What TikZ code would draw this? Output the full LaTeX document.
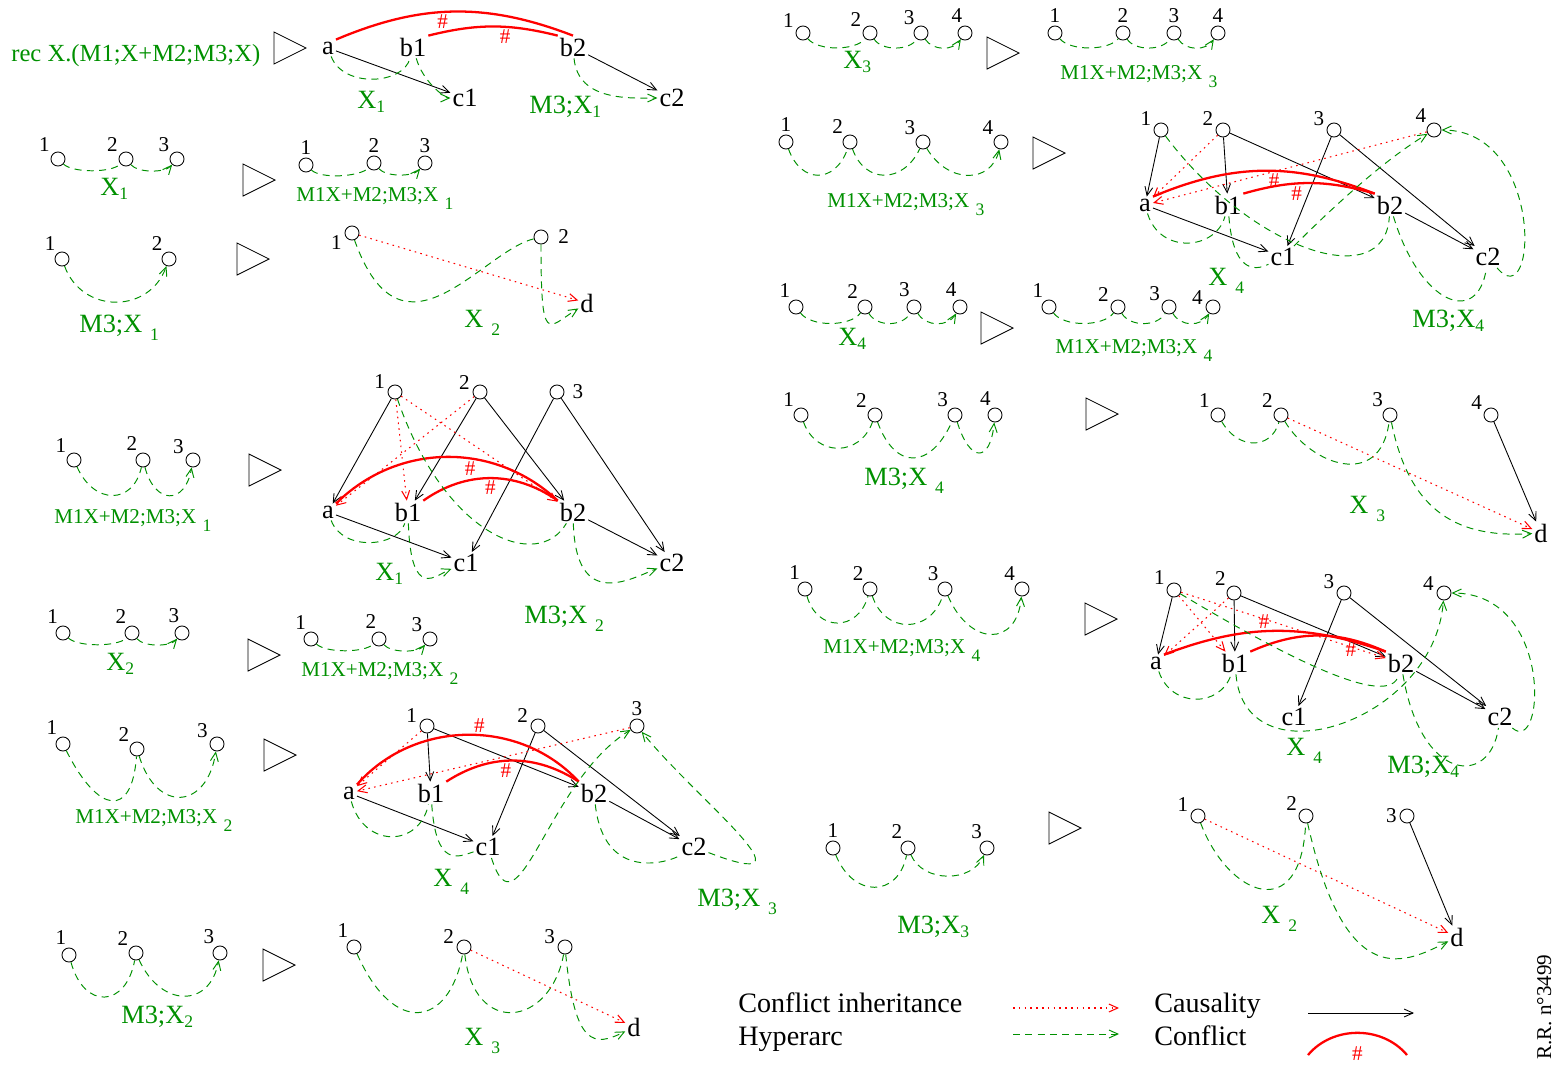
\documentclass[tikz,border=0pt]{standalone}
\usepackage{fontspec}
\setmainfont{Liberation Serif}
\usetikzlibrary{arrows.meta}
\definecolor{figgreen}{RGB}{0,144,0}
\newcommand{\tsub}[1]{\raisebox{-2.5pt}{\fontsize{10}{10}\selectfont #1}}
\newcommand{\gsub}[1]{\hspace{0.3em}\raisebox{-5pt}{\fontsize{10}{10}\selectfont #1}}

\tikzset{
  place/.style={circle, draw, inner sep=0pt, minimum size=8pt, line width=0.5pt},
  evt/.style={inner sep=1pt, font=\fontsize{15}{15}\selectfont},
  num/.style={inner sep=0.5pt, font=\fontsize{12}{12}\selectfont},
  barbtip/.style={-{Straight Barb[length=5pt,width=4.5pt]}},
  causal/.style={barbtip, line width=0.5pt},
  inherit/.style={barbtip, red, line width=0.6pt, dash pattern=on 0.9pt off 2.4pt},
  hyp/.style={figgreen, line width=0.55pt, dash pattern=on 4pt off 3pt},
  hyper/.style={hyp, barbtip},
  confl/.style={red, line width=1.3pt},
  hash/.style={red, inner sep=1pt, font=\fontsize{12}{12}\selectfont},
  glbl/.style={figgreen, anchor=base west, inner sep=0pt, font=\fontsize{15}{15}\selectfont},
  gsmall/.style={figgreen, anchor=base west, inner sep=0pt, font=\fontsize{12}{12}\selectfont},
  legend/.style={anchor=base west, inner sep=0pt, font=\fontsize{16}{16}\selectfont},
  rhd/.pic={\draw[line width=0.5pt] (0,-16) -- (32,0) -- (0,16) -- cycle;}
}

\begin{document}
\begin{tikzpicture}[x=0.02cm, y=-0.02cm, label distance=1pt]
\useasboundingbox (0,0) rectangle (1553,1066);

% L1
\node[glbl, font=\fontsize{14}{14}\selectfont] (rec) at (11,61) {rec X.(M1;X+M2;M3;X)};
\pic at (274,48) {rhd};
\node[evt] (L1a) at (328,48) {a};
\node[evt] (L1b1) at (413,47) {b1};
\node[evt] (L1b2) at (573,47) {b2};
\node[evt] (L1c1) at (465,98) {c1};
\node[evt] (L1c2) at (672,98) {c2};
\draw[causal] (L1a) -- (L1c1);
\draw[causal] (L1b2) -- (L1c2);
\draw[confl] (L1a.north east) to[bend left=22] node[hash, pos=0.45, below] (L1h1) {\#} (L1b2.north);
\draw[confl] (L1b1.north east) to[bend left=14] node[hash, pos=0.6, below] (L1h2) {\#} (L1b2.north west);
\draw[hyper] (L1a) .. controls +(15,40) and +(-10,38) .. (L1b1) .. controls +(10,35) and +(-20,0) .. (L1c1);
\draw[hyper] (L1b2) .. controls +(5,55) and +(-40,0) .. (L1c2);
\node[glbl] (L1x) at (357,108) {X\tsub{1}};
\node[glbl] (L1m) at (529,113) {M3;X\tsub{1}};

% L2
\node[place, label={[num]140:1}] (L2l1) at (58,159) {};
\node[place, label={[num]140:2}] (L2l2) at (126,159) {};
\node[place, label={[num]135:3}] (L2l3) at (177,159) {};
\draw[hyper] (L2l1) .. controls +(15,14) and +(-15,14) .. (L2l2) .. controls +(12,14) and +(-12,14) .. (L2l3);
\node[glbl] (L2x) at (100,195) {X\tsub{1}};
\pic at (243,180) {rhd};
\node[place, label={[num]above:1}] (L2r1) at (306,165) {};
\node[place, label={[num]above:2}] (L2r2) at (374,163) {};
\node[place, label={[num]above:3}] (L2r3) at (425,163) {};
\draw[hyper] (L2r1) .. controls +(15,14) and +(-15,14) .. (L2r2) .. controls +(12,14) and +(-12,14) .. (L2r3);
\node[gsmall] (L2m) at (296,201) {M1X+M2;M3;X\gsub{1}};

% L3
\node[place, label={[num]125:1}] (L3l1) at (62,259) {};
\node[place, label={[num]125:2}] (L3l2) at (169,259) {};
\draw[hyper] (L3l1) .. controls +(20,55) and +(-20,55) .. (L3l2);
\node[glbl] (L3m) at (79,332) {M3;X\gsub{1}};
\pic at (237,259) {rhd};
\node[place, label={[num]190:1}] (L3r1) at (352,233) {};
\node[place, label={[num, xshift=4pt]right:2}] (L3r2) at (541,237) {};
\node[evt] (L3d) at (587,303) {d};
\draw[inherit] (L3r1) -- (L3d);
\draw[hyper] (L3r1) .. controls +(50,140) and +(-60,15) .. (L3r2) .. controls +(0,110) and +(-40,25) .. (L3d);
\node[glbl] (L3x) at (464,327) {X\gsub{2}};

% L4
\node[place, label={[num]135:1}] (L4l1) at (74,460) {};
\node[place, label={[num]120:2}] (L4l2) at (143,460) {};
\node[place, label={[num]150:3}] (L4l3) at (193,460) {};
\draw[hyper] (L4l1) .. controls +(20,45) and +(-10,45) .. (L4l2) .. controls +(12,45) and +(-8,45) .. (L4l3);
\node[gsmall] (L4m) at (54,523) {M1X+M2;M3;X\gsub{1}};
\pic at (249,470) {rhd};
\node[place, label={[num]165:1}] (L4r1) at (395,392) {};
\node[place, label={[num]170:2}] (L4r2) at (480,392) {};
\node[place, label={[num, xshift=3pt]right:3}] (L4r3) at (557,392) {};
\node[evt] (L4a) at (328,512) {a};
\node[evt] (L4b1) at (408,512) {b1};
\node[evt] (L4b2) at (573,512) {b2};
\node[evt] (L4c1) at (466,563) {c1};
\node[evt] (L4c2) at (672,563) {c2};
\draw[causal] (L4r1) -- (L4a);
\draw[causal] (L4r2) -- (L4b1);
\draw[causal] (L4r2) -- (L4b2);
\draw[causal] (L4r3) -- (L4c1);
\draw[causal] (L4r3) -- (L4c2);
\draw[causal] (L4a) -- (L4c1);
\draw[causal] (L4b2) -- (L4c2);
\draw[confl] (L4a.north east) to[bend left=44] node[hash, pos=0.6, below] (L4h1) {\#} (L4b2.north west);
\draw[confl] (L4b1.north east) to[bend left=35] node[hash, pos=0.5, below] (L4h2) {\#} (L4b2.north west);
\draw[inherit] (L4r1) -- (L4b1);
\draw[inherit] (L4r1) -- (L4b2);
\draw[inherit] (L4r2) -- (L4a);
\draw[hyper] (L4a) .. controls +(15,40) and +(-10,35) .. (L4b1) .. controls +(3,90) and +(-30,12) .. (L4c1);
\draw[hyper] (L4r1) .. controls +(50,145) and +(-35,60) .. (L4b2) .. controls +(3,100) and +(-40,15) .. (L4c2);
\node[glbl] (L4x) at (375,580) {X\tsub{1}};
\node[glbl] (L4m2) at (524,623) {M3;X\gsub{2}};

% L5
\node[place, label={[num]115:1}] (L5l1) at (63,633) {};
\node[place, label={[num]120:2}] (L5l2) at (132,633) {};
\node[place, label={[num]100:3}] (L5l3) at (182,633) {};
\draw[hyper] (L5l1) .. controls +(15,14) and +(-15,14) .. (L5l2) .. controls +(12,14) and +(-12,14) .. (L5l3);
\node[glbl] (L5x) at (106,670) {X\tsub{2}};
\pic at (248,655) {rhd};
\node[place, label={[num]115:1}] (L5r1) at (311,639) {};
\node[place, label={[num]100:2}] (L5r2) at (379,639) {};
\node[place, label={[num]135:3}] (L5r3) at (430,639) {};
\draw[hyper] (L5r1) .. controls +(15,14) and +(-15,14) .. (L5r2) .. controls +(12,14) and +(-12,14) .. (L5r3);
\node[gsmall] (L5m) at (301,676) {M1X+M2;M3;X\gsub{2}};

% L6
\node[place, label={[num]120:1}] (L6l1) at (63,744) {};
\node[place, label={[num]135:2}] (L6l2) at (137,749) {};
\node[place, label={[num]150:3}] (L6l3) at (217,744) {};
\draw[hyper] (L6l1) .. controls +(35,70) and +(-5,70) .. (L6l2) .. controls +(20,65) and +(-10,65) .. (L6l3);
\node[gsmall] (L6m) at (75,823) {M1X+M2;M3;X\gsub{2}};
\pic at (264,755) {rhd};
\node[place, label={[num]165:1}] (L6r1) at (427,726) {};
\node[place, label={[num]165:2}] (L6r2) at (538,726) {};
\node[place, label={[num]above:3}] (L6r3) at (637,726) {};
\node[evt] (L6a) at (349,793) {a};
\node[evt] (L6b1) at (431,793) {b1};
\node[evt] (L6b2) at (594,793) {b2};
\node[evt] (L6c1) at (488,847) {c1};
\node[evt] (L6c2) at (694,847) {c2};
\draw[causal] (L6r1) -- (L6b1);
\draw[causal] (L6r1) -- (L6b2);
\draw[causal] (L6r2) -- (L6c1);
\draw[causal] (L6r2) -- (L6c2);
\draw[causal] (L6a) -- (L6c1);
\draw[causal] (L6b2) -- (L6c2);
\draw[confl] (L6a.north east) to[bend left=48] node[hash, pos=0.55, above] (L6h1) {\#} (L6b2.north west);
\draw[confl] (L6b1.north east) to[bend left=33] node[hash, pos=0.45, below] (L6h2) {\#} (L6b2.north west);
\draw[inherit] (L6r1) -- (L6a);
\draw[inherit] (L6r3) -- (L6a);
\draw[hyp] (L6a) .. controls +(15,55) and +(-12,55) .. (L6b1) .. controls +(5,75) and +(-30,10) .. (L6c1);
\draw[hyper] (L6c1) .. controls +(30,95) and +(-90,55) .. (L6r3);
\draw[hyp] (L6b2) .. controls +(10,90) and +(-25,15) .. (L6c2);
\draw[hyper] (L6c2) .. controls +(130,50) and +(60,74) .. (L6r3);
\node[glbl] (L6x) at (433,886) {X\gsub{4}};
\node[glbl] (L6m2) at (697,906) {M3;X\gsub{3}};

% L7
\node[place, label={[num]100:1}] (L7l1) at (69,955) {};
\node[place, label={[num]135:2}] (L7l2) at (136,953) {};
\node[place, label={[num]120:3}] (L7l3) at (220,953) {};
\draw[hyper] (L7l1) .. controls +(15,55) and +(-10,55) .. (L7l2) .. controls +(25,55) and +(-10,55) .. (L7l3);
\node[glbl] (L7m) at (121,1023) {M3;X\tsub{2}};
\pic at (263,965) {rhd};
\node[place, label={[num]120:1}] (L7r1) at (354,947) {};
\node[place, label={[num]165:2}] (L7r2) at (464,947) {};
\node[place, label={[num]165:3}] (L7r3) at (565,947) {};
\node[evt] (L7d) at (634,1027) {d};
\draw[inherit] (L7r2) -- (L7d);
\draw[hyper] (L7r1) .. controls +(40,90) and +(-15,80) .. (L7r2) .. controls +(10,90) and +(-15,80) .. (L7r3) .. controls +(10,100) and +(-40,20) .. (L7d);
\node[glbl] (L7x) at (464,1045) {X\gsub{3}};

% R1
\node[place, label={[num]150:1}] (R1l1) at (803,33) {};
\node[place, label={[num]145:2}] (R1l2) at (870,33) {};
\node[place, label={[num]125:3}] (R1l3) at (921,33) {};
\node[place, label={[num]100:4}] (R1l4) at (965,33) {};
\draw[hyper] (R1l1) .. controls +(15,18) and +(-15,18) .. (R1l2) .. controls +(12,18) and +(-12,18) .. (R1l3) .. controls +(12,18) and +(-12,18) .. (R1l4);
\node[glbl] (R1x) at (843,68) {X\tsub{3}};
\pic at (987,53) {rhd};
\node[place, label={[num]above:1}] (R1r1) at (1055,33) {};
\node[place, label={[num]above:2}] (R1r2) at (1123,33) {};
\node[place, label={[num]above:3}] (R1r3) at (1174,33) {};
\node[place, label={[num]above:4}] (R1r4) at (1218,33) {};
\draw[hyper] (R1r1) .. controls +(15,18) and +(-15,18) .. (R1r2) .. controls +(12,18) and +(-12,18) .. (R1r3) .. controls +(12,18) and +(-12,18) .. (R1r4);
\node[gsmall] (R1m) at (1060,79) {M1X+M2;M3;X\gsub{3}};

% R2
\node[place, label={[num]above:1}] (R2l1) at (786,142) {};
\node[place, label={[num]130:2}] (R2l2) at (850,142) {};
\node[place, label={[num]135:3}] (R2l3) at (923,142) {};
\node[place, label={[num]135:4}] (R2l4) at (1001,142) {};
\draw[hyper] (R2l1) .. controls +(15,42) and +(-15,42) .. (R2l2) .. controls +(15,42) and +(-20,42) .. (R2l3) .. controls +(25,42) and +(-10,42) .. (R2l4);
\node[gsmall] (R2m) at (827,207) {M1X+M2;M3;X\gsub{3}};
\pic at (1033,153) {rhd};
\node[place, label={[num]160:1}] (R2r1) at (1161,130) {};
\node[place, label={[num]160:2}] (R2r2) at (1223,130) {};
\node[place, label={[num]160:3}] (R2r3) at (1334,130) {};
\node[place, label={[num]135:4}] (R2r4) at (1434,130) {};
\node[evt] (R2a) at (1145,205) {a};
\node[evt] (R2b1) at (1228,205) {b1};
\node[evt] (R2b2) at (1390,205) {b2};
\node[evt] (R2c1) at (1283,257) {c1};
\node[evt] (R2c2) at (1488,257) {c2};
\draw[causal] (R2r1) -- (R2a);
\draw[causal] (R2r2) -- (R2b1);
\draw[causal] (R2r2) -- (R2b2);
\draw[causal] (R2r3) -- (R2c1);
\draw[causal] (R2r3) -- (R2c2);
\draw[causal] (R2a) -- (R2c1);
\draw[causal] (R2b2) -- (R2c2);
\draw[confl] (R2a.north east) to[bend left=22] node[hash, pos=0.55, below] (R2h1) {\#} (R2b2.north west);
\draw[confl] (R2b1.north east) to[bend left=16] node[hash, pos=0.4, below] (R2h2) {\#} (R2b2.north west);
\draw[inherit] (R2r2) -- (R2a);
\draw[inherit] (R2r4) -- (R2a);
\draw[hyp] (R2a) .. controls +(15,50) and +(-12,45) .. (R2b1) .. controls +(5,65) and +(-30,15) .. (R2c1);
\draw[hyper] (R2c1) .. controls +(50,-50) and +(-50,30) .. (R2r4);
\draw[hyp] (R2r1) .. controls +(90,120) and +(-5,90) .. (R2b2) .. controls +(30,100) and +(-10,70) .. (R2c2);
\draw[hyper] (R2c2) .. controls +(50,60) and +(110,0) .. (R2r4);
\node[glbl] (R2x) at (1208,285) {X\gsub{4}};
\node[glbl] (R2m2) at (1412,327) {M3;X\tsub{4}};

% R3
\node[place, label={[num]120:1}] (R3l1) at (796,307) {};
\node[place, label={[num]130:2}] (R3l2) at (865,307) {};
\node[place, label={[num]110:3}] (R3l3) at (914,307) {};
\node[place, label={[num]105:4}] (R3l4) at (960,307) {};
\draw[hyper] (R3l1) .. controls +(15,20) and +(-15,20) .. (R3l2) .. controls +(12,20) and +(-12,20) .. (R3l3) .. controls +(12,20) and +(-12,20) .. (R3l4);
\node[glbl] (R3x) at (838,345) {X\tsub{4}};
\pic at (981,328) {rhd};
\node[place, label={[num]120:1}] (R3r1) at (1049,307) {};
\node[place, label={[num]150:2}] (R3r2) at (1118,307) {};
\node[place, label={[num]150:3}] (R3r3) at (1169,307) {};
\node[place, label={[num]170:4}] (R3r4) at (1213,307) {};
\draw[hyper] (R3r1) .. controls +(15,20) and +(-15,20) .. (R3r2) .. controls +(12,20) and +(-12,20) .. (R3r3) .. controls +(12,20) and +(-12,20) .. (R3r4);
\node[gsmall] (R3m) at (1055,353) {M1X+M2;M3;X\gsub{4}};

% R4
\node[place, label={[num]130:1}] (R4l1) at (801,415) {};
\node[place, label={[num]140:2}] (R4l2) at (875,415) {};
\node[place, label={[num]130:3}] (R4l3) at (955,415) {};
\node[place, label={[num]110:4}] (R4l4) at (995,415) {};
\draw[hyper] (R4l1) .. controls +(15,42) and +(-15,42) .. (R4l2) .. controls +(20,55) and +(-25,55) .. (R4l3) .. controls +(15,48) and +(-5,48) .. (R4l4);
\node[glbl] (R4m) at (864,485) {M3;X\gsub{4}};
\pic at (1086,414) {rhd};
\node[place, label={[num]140:1}] (R4r1) at (1218,415) {};
\node[place, label={[num]140:2}] (R4r2) at (1281,415) {};
\node[place, label={[num]130:3}] (R4r3) at (1390,415) {};
\node[place, label={[num]150:4}] (R4r4) at (1491,415) {};
\node[evt] (R4d) at (1541,533) {d};
\draw[causal] (R4r4) -- (R4d);
\draw[inherit] (R4r2) -- (R4d);
\draw[hyper] (R4r1) .. controls +(20,35) and +(-10,35) .. (R4r2) .. controls +(30,50) and +(-10,75) .. (R4r3) .. controls +(20,100) and +(-80,5) .. (R4d);
\node[glbl] (R4x) at (1349,513) {X\gsub{3}};

% R5
\node[place, label={[num]115:1}] (R5l1) at (805,589) {};
\node[place, label={[num]125:2}] (R5l2) at (870,589) {};
\node[place, label={[num]125:3}] (R5l3) at (945,589) {};
\node[place, label={[num]130:4}] (R5l4) at (1022,589) {};
\draw[hyper] (R5l1) .. controls +(12,43) and +(-12,43) .. (R5l2) .. controls +(15,45) and +(-15,45) .. (R5l3) .. controls +(25,58) and +(-5,58) .. (R5l4);
\node[gsmall] (R5m) at (823,653) {M1X+M2;M3;X\gsub{4}};
\pic at (1085,619) {rhd};
\node[place, label={[num]150:1}] (R5r1) at (1174,590) {};
\node[place, label={[num]140:2}] (R5r2) at (1234,593) {};
\node[place, label={[num]160:3}] (R5r3) at (1344,593) {};
\node[place, label={[num]175:4}] (R5r4) at (1444,593) {};
\node[evt] (R5a) at (1156,663) {a};
\node[evt] (R5b1) at (1235,663) {b1};
\node[evt] (R5b2) at (1401,663) {b2};
\node[evt] (R5c1) at (1294,717) {c1};
\node[evt] (R5c2) at (1500,717) {c2};
\draw[causal] (R5r1) -- (R5a);
\draw[causal] (R5r2) -- (R5b1);
\draw[causal] (R5r2) -- (R5b2);
\draw[causal] (R5r3) -- (R5c1);
\draw[causal] (R5r3) -- (R5c2);
\draw[causal] (R5b2) -- (R5c2);
\draw[confl] (R5a.north east) to[bend left=20] node[hash, pos=0.45, above] (R5h1) {\#} (R5b2.north west);
\draw[confl] (R5b1.north east) to[bend left=24] node[hash, pos=0.75, below] (R5h2) {\#} (R5b2.north west);
\draw[inherit] (R5r1) -- (R5b1);
\draw[inherit] (R5r2) -- (R5a);
\draw[inherit] (R5r1) -- (R5b2);
\draw[hyper] (R5a) .. controls +(15,45) and +(-15,45) .. (R5b1) .. controls +(10,120) and +(-10,130) .. (R5r4);
\draw[hyp] (R5r1) .. controls +(100,60) and +(-10,50) .. (R5b2) .. controls +(20,120) and +(-10,70) .. (R5c2);
\draw[hyper] (R5c2) .. controls +(45,40) and +(110,0) .. (R5r4);
\node[glbl] (R5x) at (1286,755) {X\gsub{4}};
\node[glbl] (R5m2) at (1387,773) {M3;X\tsub{4}};

% R6
\node[place, label={[num]above:1}] (R6l1) at (833,848) {};
\node[place, label={[num]120:2}] (R6l2) at (908,848) {};
\node[place, label={[num]115:3}] (R6l3) at (987,848) {};
\draw[hyper] (R6l1) .. controls +(20,50) and +(-10,50) .. (R6l2) .. controls +(15,35) and +(-15,35) .. (R6l3);
\node[glbl] (R6m) at (897,933) {M3;X\tsub{3}};
\pic at (1049,828) {rhd};
\node[place, label={[num]160:1}] (R6r1) at (1198,816) {};
\node[place, label={[num]150:2}] (R6r2) at (1306,816) {};
\node[place, label={[num]left:3}] (R6r3) at (1407,816) {};
\node[evt] (R6d) at (1457,937) {d};
\draw[causal] (R6r3) -- (R6d);
\draw[inherit] (R6r1) -- (R6d);
\draw[hyper] (R6r1) .. controls +(30,80) and +(-5,110) .. (R6r2) .. controls +(40,180) and +(-50,25) .. (R6d);
\node[glbl] (R6x) at (1261,923) {X\gsub{2}};

% legend
\node[legend] (lg1) at (738,1012) {Conflict inheritance};
\node[legend] (lg2) at (738,1045) {Hyperarc};
\node[legend] (lg3) at (1154,1012) {Causality};
\node[legend] (lg4) at (1154,1045) {Conflict};
\coordinate (lgi0) at (1013,1008);
\coordinate (lgi1) at (1119,1008);
\coordinate (lgh0) at (1013,1034);
\coordinate (lgh1) at (1119,1034);
\coordinate (lgc0) at (1308,1013);
\coordinate (lgc1) at (1414,1013);
\coordinate (lgf0) at (1308,1055);
\coordinate (lgf1) at (1407,1055);
\draw[inherit] (lgi0) -- (lgi1);
\draw[hyper] (lgh0) -- (lgh1);
\draw[causal] (lgc0) -- (lgc1);
\draw[confl] (lgf0) to[bend left=50] node[hash, pos=0.5, below=6pt] (lgh) {\#} (lgf1);
\node[rotate=90, anchor=base, inner sep=0pt, font=\fontsize{12}{12}\selectfont] (rr) at (1551,1007) {R.R. n°3499};

\end{tikzpicture}
\end{document}
